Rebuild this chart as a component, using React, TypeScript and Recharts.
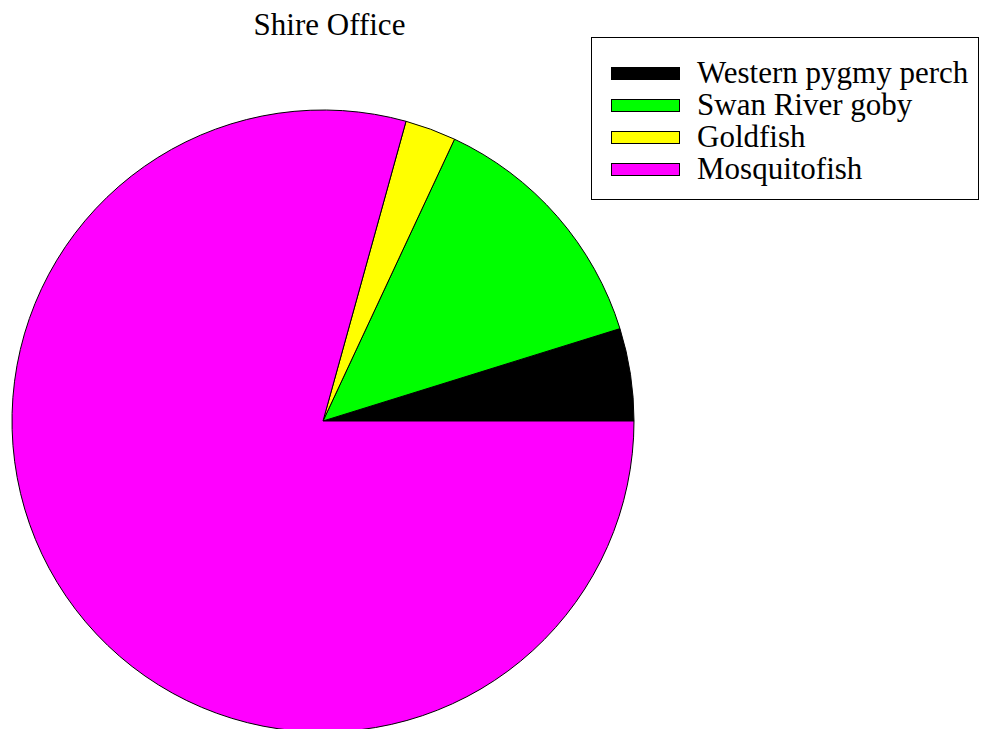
import React from "react"
import { PieChart, Pie, Cell, Legend, Customized } from "recharts"

const species = ["Western pygmy perch", "Swan River goby", "Goldfish", "Mosquitofish"]
const shares = [4.8, 13.25, 2.65, 79.3]
const colors = ["#000000", "#00ff00", "#ffff00", "#ff00ff"]

const data = species.map((name, i) => ({ name, value: shares[i] }))

const font = "'Liberation Serif', 'Times New Roman', serif"

function Title() {
  return (
    <text x={329.5} y={35} textAnchor="middle" fontFamily={font} fontSize={31} fill="#000">
      Shire Office
    </text>
  )
}

function LegendBox() {
  return (
    <svg width={390} height={164} style={{ display: "block" }}>
      <rect x={0.5} y={0.5} width={387} height={162} fill="#fff" stroke="#000" strokeWidth={1} />
      {species.map((name, i) => (
        <g key={name}>
          <rect x={20.5} y={30.5 + i * 32} width={68} height={12} fill={colors[i]} stroke="#000" strokeWidth={1} />
          <text x={106} y={46 + i * 32} fontFamily={font} fontSize={31} fill="#000">
            {name}
          </text>
        </g>
      ))}
    </svg>
  )
}

export default function App() {
  return (
    <div style={{ position: "absolute", left: 0, top: 0, width: 981, height: 729, background: "#fff" }}>
      <PieChart width={981} height={729} margin={{ top: 0, right: 0, bottom: 0, left: 0 }}>
        <Customized component={Title} />
        <Pie
          data={data}
          dataKey="value"
          nameKey="name"
          cx={323}
          cy={421}
          outerRadius={311}
          startAngle={0}
          endAngle={360}
          stroke="#000"
          strokeWidth={1}
          isAnimationActive={false}
          label={false}
          labelLine={false}
        >
          {data.map((d, i) => (
            <Cell key={d.name} fill={colors[i]} />
          ))}
        </Pie>
        <Legend
          content={() => <LegendBox />}
          wrapperStyle={{ position: "absolute", left: 591, top: 37, width: 390, height: 164 }}
        />
      </PieChart>
    </div>
  )
}
